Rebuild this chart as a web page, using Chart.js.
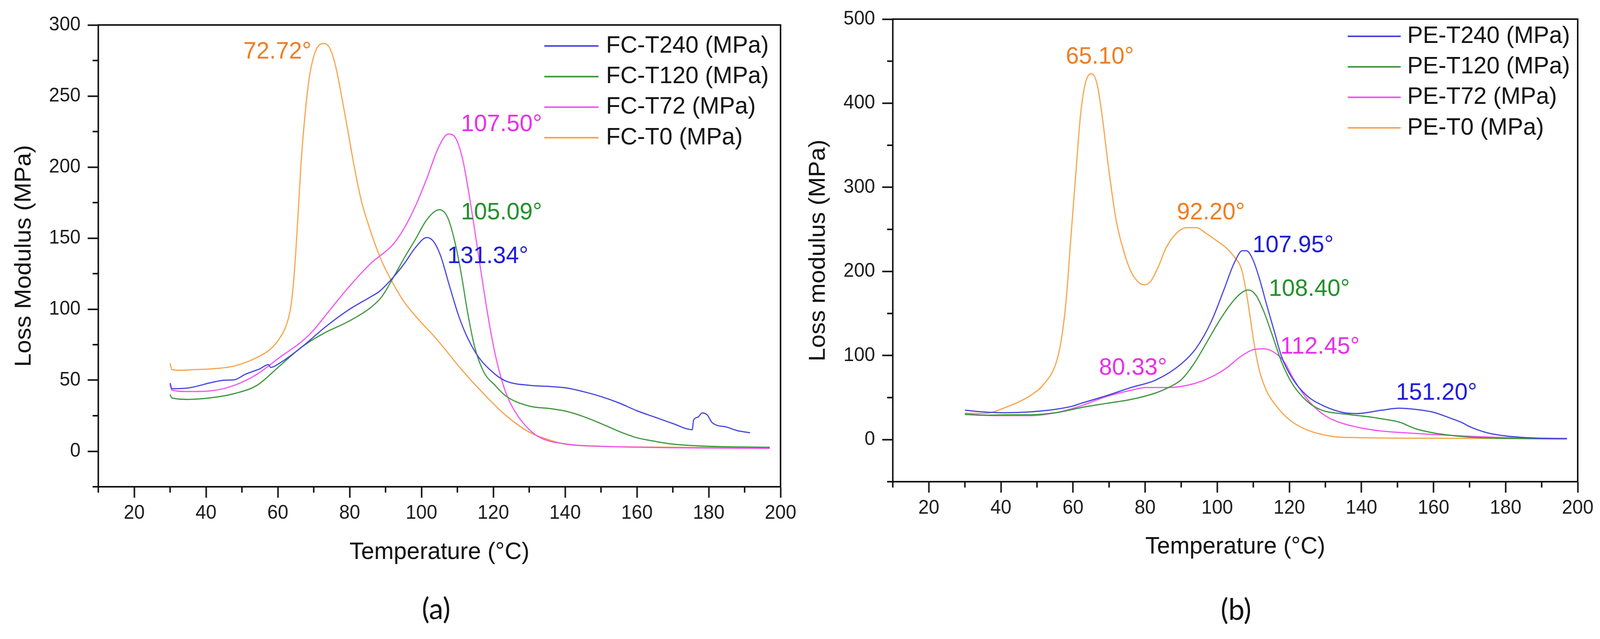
<!DOCTYPE html>
<html>
<head>
<meta charset="utf-8">
<title>Loss modulus vs temperature</title>
<script src="https://cdn.jsdelivr.net/npm/chart.js@4.4.1/dist/chart.umd.min.js"></script>
<style>
  html, body { margin: 0; padding: 0; background: #fff; overflow: hidden; }
  #page { position: relative; width: 4233px; height: 1637px; overflow: hidden; background: #fff; transform-origin: 0 0; }
  #page canvas { position: absolute; top: 0; }
  #chartA { left: 0; }
  #chartB { left: 2117px; }
  .caption {
    position: absolute;
    font-family: Lato, "Open Sans", sans-serif;
    font-size: 76px;
    color: #111;
    transform: translate(-50%, -50%);
  }
</style>
</head>
<body>
<div id="page">
  <canvas id="chartA" width="2117" height="1637"></canvas>
  <canvas id="chartB" width="2116" height="1637"></canvas>
  <div class="caption" style="left:1154px; top:1556px">(a)</div>
  <div class="caption" style="left:3270px; top:1558px">(b)</div>
</div>
<script>
// axis ticks (shared x axis, °C)
const tempTicks = [20, 40, 60, 80, 100, 120, 140, 160, 180, 200];
const tempMinor = [10, 30, 50, 70, 90, 110, 130, 150, 170, 190];
const lossTicksA = [0, 50, 100, 150, 200, 250, 300];
const lossMinorA = [-25, 25, 75, 125, 175, 225, 275];
const lossTicksB = [0, 100, 200, 300, 400, 500];
const lossMinorB = [-50, 50, 150, 250, 350, 450];

// panel (a) - FC samples
const fcLabels = ["FC-T240 (MPa)", "FC-T120 (MPa)", "FC-T72 (MPa)", "FC-T0 (MPa)"];

const fcT240Temp = [30, 30.5, 35, 41.6, 45, 47.9, 51, 55, 57.4, 58, 60.5, 66.8, 73.1, 79.4, 85.8, 88.3, 92.1, 95.2, 98.4, 101.5, 103.4, 105.3, 107.8, 110.4, 112.9, 116, 120.5, 123.6, 130, 136.2, 140.5, 145, 150, 155, 160, 165, 170, 175.4, 175.8, 177, 178.2, 179.6, 181, 185, 188, 191.5];
const fcT240Loss = [48, 44, 44.5, 48.4, 50, 50.3, 54.2, 58, 61, 59, 62, 73.6, 87.2, 99, 108.6, 112.5, 122.3, 132, 143.6, 150.4, 147.5, 137.8, 116.4, 95, 79.5, 65.9, 54.2, 49.3, 46.4, 45.5, 44.5, 42, 38.5, 34, 28.5, 24, 19.5, 15.2, 22, 24, 27, 25.5, 20, 17, 14.5, 13];

const fcT120Temp = [30, 30.5, 35, 41.6, 47.9, 54.2, 60.5, 66.8, 73.1, 79.4, 85.8, 88.9, 92.1, 95.2, 98.4, 101.5, 105, 107.2, 109.1, 111, 112.9, 114.8, 117.3, 120.5, 123.6, 130, 136.2, 140.5, 145, 150, 155, 160, 165, 170, 180, 197];
const fcT120Loss = [40, 37.5, 36.5, 37.7, 40.6, 46.4, 60, 73.6, 83.4, 91, 101, 108.6, 122, 136, 149.5, 163, 170, 165, 149.5, 126, 97, 73.6, 56, 46.4, 38.7, 31.8, 29.9, 28, 24.5, 19.5, 14, 9.5, 7, 5, 3.5, 2.8];

const fcT72Temp = [30, 30.5, 35, 41.6, 47.9, 54.2, 60.5, 66.8, 70, 73.1, 79.4, 85.8, 92.1, 95.2, 98.4, 101.5, 104.7, 107.5, 109.7, 111.6, 113.5, 115.4, 117.3, 119.2, 121.1, 123.6, 126.8, 130, 133.1, 140.5, 150, 170, 197];
const fcT72Loss = [47, 43, 42, 42.6, 46.4, 54.2, 66, 77.5, 85.3, 95, 114.5, 132, 145.6, 157, 173, 192, 213.6, 223.3, 219.5, 204, 177, 146, 114.5, 85.3, 62, 40.6, 25, 15.3, 9.5, 5, 3.5, 2.5, 2];

const fcT0Temp = [30, 30.5, 33, 37, 41.6, 47.9, 54.2, 58, 60.5, 62.4, 63.7, 64.6, 65.6, 66.5, 67.5, 68.7, 70, 71.2, 72.7, 74.4, 76, 77.6, 79.4, 81.3, 83.2, 85.8, 88.9, 92.1, 95.2, 98.4, 104.7, 111, 117.3, 123.6, 130, 136.2, 140.5, 150, 160, 175, 197];
const fcT0Loss = [62, 57.5, 57, 57.5, 58, 60, 66, 72, 79.5, 89, 103, 126, 165, 204, 235, 262, 278, 285, 287, 284, 272, 252, 227, 200, 177, 155, 134, 118, 105, 95, 77.5, 58, 40.5, 25, 13.5, 7.5, 4.8, 3.4, 3, 2.7, 2.5];

// peak labels of panel (a): text, temperature, modulus, series index
const fcPeakText = ["72.72°", "107.50°", "105.09°", "131.34°"];
const fcPeakX = [50.4, 111, 111, 107.2];
const fcPeakY = [281, 230, 168, 137];
const fcPeakSeries = [3, 2, 1, 0];

// panel (b) - PE samples
const peLabels = ["PE-T240 (MPa)", "PE-T120 (MPa)", "PE-T72 (MPa)", "PE-T0 (MPa)"];

const peT240Temp = [30, 35, 41.3, 48, 55, 60, 62.1, 69.1, 76.1, 83, 90, 94.2, 98.3, 101.8, 104.6, 107, 108.1, 109.8, 111.6, 113.6, 115.7, 117.8, 120.6, 124.8, 129.6, 135.2, 138.7, 145.6, 150.4, 155, 160, 165, 168, 170, 175, 180, 190, 197];
const peT240Loss = [35, 33, 32, 33, 36, 40, 43, 52, 62, 71, 90, 109, 140, 177.6, 209, 224.6, 224.6, 215, 193, 162, 130.7, 99.4, 74.4, 52.5, 40, 32, 31, 35, 37.4, 36, 32.5, 25, 20, 15.5, 8, 4.4, 1.5, 1];

const peT120Temp = [30, 35, 41.3, 48, 55.2, 62.1, 69.1, 76.1, 83, 86.5, 90, 93.5, 97, 100.4, 103.9, 106.7, 108.6, 110.8, 112.9, 115, 117.8, 120.6, 124.8, 129, 135.2, 142.2, 146, 150.4, 155, 160, 165, 170, 180, 197];
const peT120Loss = [30, 29, 29.5, 29.5, 32, 38, 43, 47.8, 55.6, 62, 71.2, 90, 115, 140, 162, 174.5, 178, 171.4, 152.6, 127.6, 93, 68, 46, 35, 30.5, 27, 24.5, 21, 13, 8, 5, 3, 1.5, 1];

const peT72Temp = [30, 35, 41.3, 48, 55.2, 62.1, 69.1, 76.1, 80.2, 86.5, 93.5, 98.3, 102.5, 106.7, 110.2, 112.9, 115.7, 118.5, 121.3, 124.8, 128.3, 131.7, 138.7, 145.6, 150.4, 160, 170, 180, 197];
const peT72Loss = [31, 29, 28.5, 28.5, 32, 40, 51, 58.7, 62, 62, 66.5, 74.4, 85, 99.4, 107.2, 108, 104, 93, 71.2, 49, 33.7, 24.3, 15, 10.2, 8.6, 6, 4, 2.5, 1.5];

const peT0Temp = [30, 35, 38, 41.3, 45, 48.2, 51.7, 55.2, 56.6, 58, 59.4, 60.8, 62.1, 63.5, 65.1, 66.7, 68.1, 69.8, 71.9, 74, 76.1, 78.2, 79.9, 81.6, 83.7, 85.8, 88.6, 91.4, 94.2, 97, 99.7, 102.5, 104.6, 106.7, 108.1, 109.1, 110.2, 111.6, 113.6, 116.4, 119.9, 124.8, 131.7, 138.7, 150, 170, 197];
const peT0Loss = [31.5, 31, 33, 38.4, 45, 52.5, 65, 90, 115, 162, 240, 318, 387, 425, 435, 422, 384, 325, 262, 225, 199.5, 187, 184, 188.6, 206, 228, 245, 252, 252, 245, 237, 228, 218, 203, 174.5, 146.4, 115, 83.8, 58.7, 40, 24, 11.8, 4, 2.4, 1.8, 1.5, 1];

const pePeakText = ["65.10°", "92.20°", "107.95°", "108.40°", "112.45°", "80.33°", "151.20°"];
const pePeakX = [58, 88.8, 109.8, 114.3, 117.5, 67.2, 149.6];
const pePeakY = [455, 270, 231, 179, 110, 85, 55.6];
const pePeakSeries = [3, 3, 0, 1, 2, 2, 0];

// colours per series: T240, T120, T72, T0
const lineColors = ["#4444e0", "#3a963a", "#f052f0", "#f5a347"];
const textColors = ["#1c1cd8", "#22902a", "#e82ee8", "#ee7d22"];

const FONT = '"Liberation Sans", Arial, sans-serif';
Chart.defaults.font.family = FONT;
Chart.defaults.color = "#1a1a1a";

// the figure is laid out at 4233x1637; stretch it onto the real viewport
const scaleX = window.innerWidth / 4233;
const scaleY = window.innerHeight / 1637;
document.getElementById("page").style.transform = "scale(" + scaleX + "," + scaleY + ")";

function toPoints(xs, ys) {
    return xs.map((x, i) => ({ x: x, y: ys[i] }));
}

// box (top/right) and the short minor ticks, placed through the scales
const frameAndMinorTicks = {
    id: "frameAndMinorTicks",
    afterDraw(chart, args, opts) {
        const ctx = chart.ctx;
        const area = chart.chartArea;
        const xs = chart.scales.x;
        const ys = chart.scales.y;
        ctx.save();
        ctx.strokeStyle = "#111";
        ctx.lineWidth = 4;
        ctx.lineCap = "square";
        ctx.beginPath();
        ctx.moveTo(area.left, area.top);
        ctx.lineTo(area.right, area.top);
        ctx.lineTo(area.right, area.bottom);
        ctx.stroke();
        ctx.lineCap = "butt";
        opts.x.forEach(v => {
            const px = xs.getPixelForValue(v);
            ctx.beginPath();
            ctx.moveTo(px, area.bottom);
            ctx.lineTo(px, area.bottom + opts.length);
            ctx.stroke();
        });
        opts.y.forEach(v => {
            const py = ys.getPixelForValue(v);
            ctx.beginPath();
            ctx.moveTo(area.left, py);
            ctx.lineTo(area.left - opts.length, py);
            ctx.stroke();
        });
        ctx.restore();
    }
};

// peak temperature labels, anchored in data units
const peakLabels = {
    id: "peakLabels",
    afterDatasetsDraw(chart, args, opts) {
        const ctx = chart.ctx;
        ctx.save();
        ctx.font = opts.size + "px " + FONT;
        ctx.textAlign = "left";
        ctx.textBaseline = "middle";
        opts.text.forEach((t, i) => {
            ctx.fillStyle = textColors[opts.series[i]];
            ctx.fillText(t, chart.scales.x.getPixelForValue(opts.x[i]), chart.scales.y.getPixelForValue(opts.y[i]));
        });
        ctx.restore();
    }
};

// Origin-style legend in the upper right corner of the plot
const cornerLegend = {
    id: "cornerLegend",
    afterDraw(chart, args, opts) {
        const ctx = chart.ctx;
        const xs = chart.scales.x;
        const ys = chart.scales.y;
        ctx.save();
        ctx.font = opts.size + "px " + FONT;
        ctx.textAlign = "left";
        ctx.textBaseline = "middle";
        chart.data.datasets.forEach((ds, i) => {
            const py = ys.getPixelForValue(opts.y - i * opts.step);
            ctx.strokeStyle = ds.borderColor;
            ctx.lineWidth = 4;
            ctx.beginPath();
            ctx.moveTo(xs.getPixelForValue(opts.lineStart), py);
            ctx.lineTo(xs.getPixelForValue(opts.lineEnd), py);
            ctx.stroke();
            ctx.fillStyle = "#111";
            ctx.fillText(ds.label, xs.getPixelForValue(opts.textX), py);
        });
        ctx.restore();
    }
};

function makePanel(canvasId, p) {
    const datasets = p.series.map((s, i) => ({
        label: p.labels[i],
        data: toPoints(s[0], s[1]),
        borderColor: lineColors[i],
        borderWidth: 3,
        pointRadius: 0,
        fill: false,
        cubicInterpolationMode: "monotone"
    }));

    return new Chart(document.getElementById(canvasId), {
        type: "line",
        data: { datasets },
        plugins: [frameAndMinorTicks, peakLabels, cornerLegend],
        options: {
            responsive: false,
            animation: false,
            devicePixelRatio: 1,
            layout: { padding: p.padding },
            plugins: {
                legend: { display: false },
                tooltip: { enabled: false },
                frameAndMinorTicks: { x: tempMinor, y: p.yMinor, length: 15 },
                peakLabels: { text: p.peakText, x: p.peakX, y: p.peakY, series: p.peakSeries, size: 62 },
                cornerLegend: Object.assign({ size: 62 }, p.legend)
            },
            scales: {
                x: {
                    type: "linear",
                    min: 10,
                    max: 200,
                    afterBuildTicks: scale => { scale.ticks = tempTicks.map(v => ({ value: v })); },
                    afterFit: scale => { scale.height = p.xHeight; },
                    border: { display: true, color: "#111", width: 4 },
                    grid: { display: true, drawOnChartArea: false, drawTicks: true, tickLength: 28, tickWidth: 4, tickColor: "#111" },
                    ticks: { font: { size: 50 }, color: "#1a1a1a", padding: 10, maxRotation: 0 },
                    title: { display: true, text: "Temperature (°C)", font: { size: 62 }, color: "#111", padding: { top: 0, bottom: p.xTitlePad } }
                },
                y: {
                    type: "linear",
                    min: p.yMin,
                    max: p.yMax,
                    afterBuildTicks: scale => { scale.ticks = p.yTicks.map(v => ({ value: v })); },
                    afterFit: scale => { scale.width = p.yWidth; },
                    border: { display: true, color: "#111", width: 4 },
                    grid: { display: true, drawOnChartArea: false, drawTicks: true, tickLength: 28, tickWidth: 4, tickColor: "#111" },
                    ticks: { font: { size: 50 }, color: "#1a1a1a", padding: 19 },
                    title: { display: true, text: p.yTitle, font: { size: 62 }, color: "#111", padding: { top: p.yTitlePad, bottom: 0 } }
                }
            }
        }
    });
}

makePanel("chartA", {
    labels: fcLabels,
    series: [[fcT240Temp, fcT240Loss], [fcT120Temp, fcT120Loss], [fcT72Temp, fcT72Loss], [fcT0Temp, fcT0Loss]],
    yMin: -25, yMax: 300, yTicks: lossTicksA, yMinor: lossMinorA,
    yTitle: "Loss Modulus (MPa)",
    peakText: fcPeakText, peakX: fcPeakX, peakY: fcPeakY, peakSeries: fcPeakSeries,
    legend: { lineStart: 134.2, lineEnd: 149.3, textX: 151.4, y: 285.2, step: 21.5 },
    padding: { left: 0, right: 52, top: 64, bottom: 0 },
    yWidth: 260, xHeight: 390, yTitlePad: 27, xTitlePad: 185
});

makePanel("chartB", {
    labels: peLabels,
    series: [[peT240Temp, peT240Loss], [peT120Temp, peT120Loss], [peT72Temp, peT72Loss], [peT0Temp, peT0Loss]],
    yMin: -50, yMax: 500, yTicks: lossTicksB, yMinor: lossMinorB,
    yTitle: "Loss modulus (MPa)",
    peakText: pePeakText, peakX: pePeakX, peakY: pePeakY, peakSeries: pePeakSeries,
    legend: { lineStart: 136.2, lineEnd: 150.9, textX: 152.7, y: 479.6, step: 36.3 },
    padding: { left: 0, right: 59, top: 46, bottom: 0 },
    yWidth: 245, xHeight: 403, yTitlePad: 11, xTitlePad: 199
});
</script>
</body>
</html>
